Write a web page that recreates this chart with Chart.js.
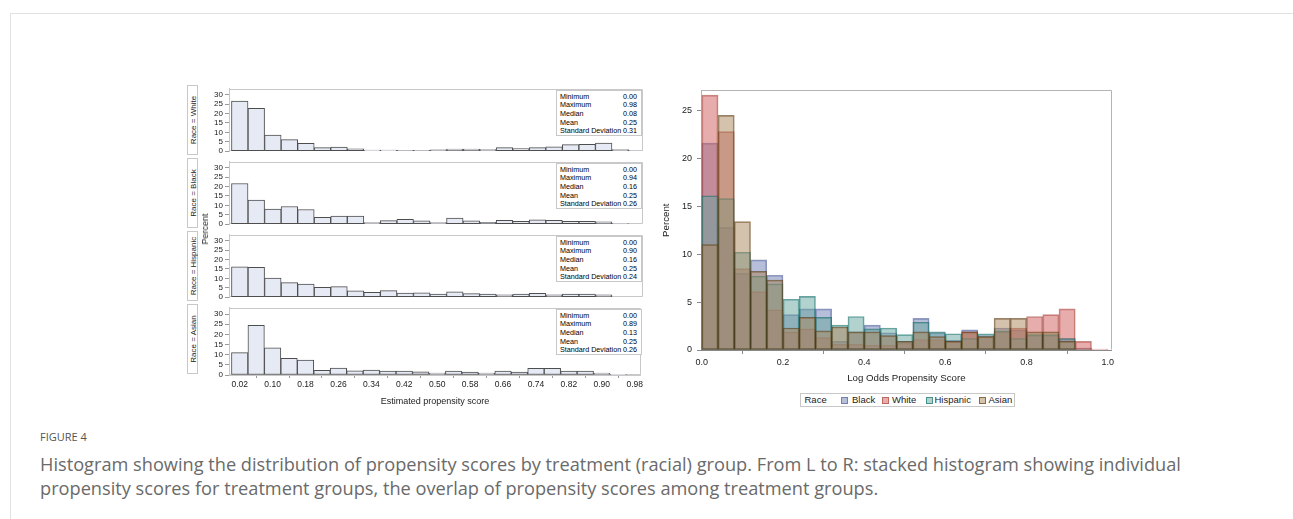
<!DOCTYPE html>
<html><head><meta charset="utf-8">
<script src="https://cdn.jsdelivr.net/npm/chart.js@4.4.1/dist/chart.umd.min.js"></script>
<style>
html,body{margin:0;padding:0;background:#fff;}
body{width:1293px;height:519px;overflow:hidden;position:relative;font-family:"Liberation Sans",Arial,sans-serif;}
canvas{position:absolute;}
.line{position:absolute;background:#e2e2e2;}
.strip{position:absolute;border:1px solid #c8c8c8;box-sizing:border-box;width:11px;background:#fff;}
.strip span,.rot{position:absolute;white-space:nowrap;transform:translate(-50%,-50%) rotate(-90deg);}
.strip span{left:50%;top:50%;font-size:8px;color:#222;}
.stats{position:absolute;border:1px solid #c8c8c8;box-sizing:border-box;background:#fff;font-size:7.2px;color:#000;padding-top:1.5px;}
.stats div{display:flex;justify-content:space-between;height:8.7px;line-height:8.7px;padding:0 4px 0 3px;}
.legend{position:absolute;border:1px solid #c8c8c8;box-sizing:border-box;font-size:9.5px;color:#222;}
.legend .it{position:absolute;top:0;line-height:12px;white-space:nowrap;}
.legend .sw{position:absolute;top:3px;width:7px;height:7px;box-sizing:border-box;border:1px solid;}
.cap1{position:absolute;left:40px;top:429px;font-family:"Open Sans",sans-serif;font-size:11px;color:#555;}
.cap2{position:absolute;left:40px;top:452px;width:1180px;font-family:"Open Sans",sans-serif;font-size:18.2px;line-height:24px;color:#6a6a6a;}
</style></head><body>
<div class="line" style="left:10px;top:13px;width:1283px;height:1px;"></div>
<div class="line" style="left:10px;top:13px;width:1px;height:506px;"></div>

<canvas id="p0" width="440" height="76" style="left:205px;top:82px;"></canvas>
<canvas id="p1" width="440" height="76" style="left:205px;top:155px;"></canvas>
<canvas id="p2" width="440" height="76" style="left:205px;top:228px;"></canvas>
<canvas id="p3" width="440" height="107" style="left:205px;top:301px;"></canvas>
<canvas id="ov" width="467" height="306" style="left:650px;top:80px;"></canvas>

<div id="overlays"></div>
<div class="rot" style="left:205px;top:229px;font-size:9px;color:#222;">Percent</div>
<div class="legend" id="legend" style="left:800px;top:393px;width:215px;height:14px;"></div>

<div class="cap1">FIGURE 4</div>
<div class="cap2">Histogram showing the distribution of propensity scores by treatment (racial) group. From L to R: stacked histogram showing individual propensity scores for treatment groups, the overlap of propensity scores among treatment groups.</div>

<script>
// ---------- data ----------
const binMids = [0.02,0.06,0.10,0.14,0.18,0.22,0.26,0.30,0.34,0.38,0.42,0.46,0.50,0.54,0.58,0.62,0.66,0.70,0.74,0.78,0.82,0.86,0.90,0.94,0.98];
const races = ["White","Black","Hispanic","Asian"];
const white    = [26.6,22.8,8.5,6.1,4.2,1.9,2.2,1.3,0.6,0.6,0.5,0.5,0.7,1.1,1.1,0.9,1.9,1.4,1.9,2.3,3.5,3.7,4.3,0.9,0.1];
const black    = [21.6,12.8,8.0,9.4,7.8,3.7,4.3,4.3,0.9,1.9,2.6,1.8,0.9,3.3,1.8,1.0,2.1,1.5,2.3,2.1,1.5,1.5,1.2,0.2,0.0];
const hispanic = [16.1,15.8,10.2,7.7,6.9,5.3,5.6,3.4,2.6,3.5,2.2,2.3,1.6,2.9,1.9,1.7,1.2,1.7,2.0,1.2,1.6,1.6,1.2,0.0,0.0];
const asian    = [11.0,24.5,13.4,8.2,7.3,2.3,3.4,2.0,2.4,1.9,1.9,1.5,0.9,1.9,1.4,0.9,1.9,1.4,3.3,3.3,1.9,1.9,0.9,0.1,0.0];
const leftXTicks = [0.02,0.10,0.18,0.26,0.34,0.42,0.50,0.58,0.66,0.74,0.82,0.90,0.98];
const leftYTicks = [0,5,10,15,20,25,30];
const rightXTicks = [0.0,0.2,0.4,0.6,0.8,1.0];
const rightYTicks = [0,5,10,15,20,25];
const statLabels = ["Minimum","Maximum","Median","Mean","Standard Deviation"];
const statsWhite    = ["0.00","0.98","0.08","0.25","0.31"];
const statsBlack    = ["0.00","0.94","0.16","0.25","0.26"];
const statsHispanic = ["0.00","0.90","0.16","0.25","0.24"];
const statsAsian    = ["0.00","0.89","0.13","0.25","0.26"];
const legendOrder = ["Black","White","Hispanic","Asian"];

// ---------- styles ----------
const FONT = "'Liberation Sans', Arial, sans-serif";
Chart.defaults.font.family = FONT;
Chart.defaults.color = '#222';
const panelTops = [85,158,231,304];
const panelH = 71;
const panelData = [white, black, hispanic, asian];
const panelStats = [statsWhite, statsBlack, statsHispanic, statsAsian];
const fills = {Black:'rgba(111,126,179,0.5)', White:'rgba(208,91,91,0.5)', Hispanic:'rgba(102,165,160,0.5)', Asian:'rgba(169,134,91,0.5)'};
const edges = {Black:'rgba(68,86,148,0.6)', White:'rgba(162,58,46,0.6)', Hispanic:'rgba(1,102,94,0.6)', Asian:'rgba(84,48,5,0.6)'};
const drawOrder = {Black:4, White:3, Hispanic:2, Asian:1};
const seriesByRace = {White:white, Black:black, Hispanic:hispanic, Asian:asian};

const framePlugin = {
  id:'frame',
  beforeDatasetsDraw(chart, args, opts){
    const {left,top,right,bottom} = chart.chartArea;
    const ctx = chart.ctx;
    ctx.save();
    ctx.strokeStyle = opts.color || '#c8c8c8';
    ctx.lineWidth = 1;
    ctx.beginPath();
    ctx.moveTo(Math.round(left)+0.5, Math.round(bottom)-0.5);
    ctx.lineTo(Math.round(left)+0.5, Math.round(top)+0.5);
    ctx.lineTo(Math.round(right)-0.5, Math.round(top)+0.5);
    ctx.lineTo(Math.round(right)-0.5, Math.round(bottom)-0.5);
    if (opts.closeBottom) ctx.lineTo(Math.round(left)+0.5, Math.round(bottom)-0.5);
    ctx.stroke();
    ctx.restore();
  }
};

// ---------- left panels ----------
panelData.forEach((vals, p) => {
  const bottom = p === 3;
  new Chart(document.getElementById('p'+p), {
    type:'bar',
    data:{datasets:[{
      data: binMids.map((x,i)=>({x:x, y:vals[i]})),
      backgroundColor:'#E6EAF5', borderColor:'#4e4e4e', borderWidth:1,
      borderSkipped:false, barPercentage:1, categoryPercentage:1
    }]},
    options:{
      responsive:false, animation:false, devicePixelRatio:1,
      layout:{padding:{top:3,right:2,bottom:bottom?0:2,left:0}},
      plugins:{legend:{display:false}, tooltip:{enabled:false}, frame:{color:'#c8c8c8', closeBottom:true}},
      scales:{
        x:{type:'linear', min:-0.006, max:0.995, display:bottom, offset:false,
          afterBuildTicks:s=>{s.ticks = leftXTicks.map(v=>({value:v}));},
          afterFit:s=>{ if (bottom) s.height = 33; },
          grid:{drawOnChartArea:false, drawTicks:true, tickLength:3, color:'#9a9a9a'},
          border:{display:true, color:'#c8c8c8'},
          ticks:{padding:2, autoSkip:false, maxRotation:0, font:{size:8.5}, color:'#222', callback:v=>Number(v).toFixed(2)},
          title:{display:true, text:'Estimated propensity score', font:{size:9}, color:'#222', padding:{top:0,bottom:1}}
        },
        y:{min:0, max:33.1,
          afterBuildTicks:s=>{s.ticks = leftYTicks.map(v=>({value:v}));},
          afterFit:s=>{s.width = 24;},
          grid:{drawOnChartArea:false, drawTicks:true, tickLength:4, color:'#9a9a9a'},
          border:{display:true, color:'#c8c8c8'},
          ticks:{padding:2, autoSkip:false, font:{size:8}, color:'#222'}
        }
      }
    },
    plugins:[framePlugin]
  });
});

// strip labels and stats boxes
const ov = document.getElementById('overlays');
races.forEach((r, p) => {
  const s = document.createElement('div');
  s.className = 'strip';
  s.style.left = '187px'; s.style.top = panelTops[p]+'px'; s.style.height = (panelH-1)+'px';
  s.innerHTML = '<span>Race = '+r+'</span>';
  ov.appendChild(s);
  const b = document.createElement('div');
  b.className = 'stats';
  b.style.left = '556px'; b.style.top = (panelTops[p]+5)+'px'; b.style.width = '86px'; b.style.height = '46px';
  b.innerHTML = statLabels.map((l,i)=>'<div><span>'+l+'</span><span>'+panelStats[p][i]+'</span></div>').join('');
  ov.appendChild(b);
});

// ---------- overlay histogram ----------
new Chart(document.getElementById('ov'), {
  type:'bar',
  data:{datasets: legendOrder.map(r => ({
    label:r,
    data: binMids.map((x,i)=>({x:x, y:seriesByRace[r][i]})),
    backgroundColor:fills[r], borderColor:edges[r], borderWidth:1,
    borderSkipped:false, barPercentage:1, categoryPercentage:1, grouped:false, order:drawOrder[r]
  }))},
  options:{
    responsive:false, animation:false, devicePixelRatio:1,
    layout:{padding:{top:5,right:2,bottom:0,left:0}},
    plugins:{legend:{display:false}, tooltip:{enabled:false}, frame:{color:'#b4b4b4'}},
    scales:{
      x:{type:'linear', min:-0.002, max:1.01, offset:false,
        afterBuildTicks:s=>{s.ticks = rightXTicks.map(v=>({value:v}));},
        afterFit:s=>{s.height = 36;},
        grid:{drawOnChartArea:false, drawTicks:true, tickLength:4, color:'#8a8a8a'},
        border:{display:true, color:'#8a8a8a'},
        ticks:{padding:3, autoSkip:false, maxRotation:0, font:{size:9}, color:'#222', callback:v=>Number(v).toFixed(1)},
        title:{display:true, text:'Log Odds Propensity Score', font:{size:9.7}, color:'#222', padding:{top:0,bottom:2}}
      },
      y:{min:0, max:27.1,
        afterBuildTicks:s=>{s.ticks = rightYTicks.map(v=>({value:v}));},
        afterFit:s=>{s.width = 51;},
        grid:{drawOnChartArea:false, drawTicks:true, tickLength:4, color:'#8a8a8a'},
        border:{display:true, color:'#8a8a8a'},
        ticks:{padding:5, autoSkip:false, font:{size:9}, color:'#222'},
        title:{display:true, text:'Percent', font:{size:9.7}, color:'#222', padding:{top:10.5,bottom:0}}
      }
    }
  },
  plugins:[framePlugin]
});

// legend
const lg = document.getElementById('legend');
const swX = {Black:39.5, White:81, Hispanic:124.5, Asian:177.5};
const txX = {Black:51, White:91, Hispanic:133.5, Asian:187.5};
let html = '<span class="it" style="left:3.5px">Race</span>';
legendOrder.forEach(r => {
  html += '<span class="sw" style="left:'+swX[r]+'px;background:'+fills[r]+';border-color:'+edges[r]+'"></span>';
  html += '<span class="it" style="left:'+txX[r]+'px">'+r+'</span>';
});
lg.innerHTML = html;
</script>
</body></html>
